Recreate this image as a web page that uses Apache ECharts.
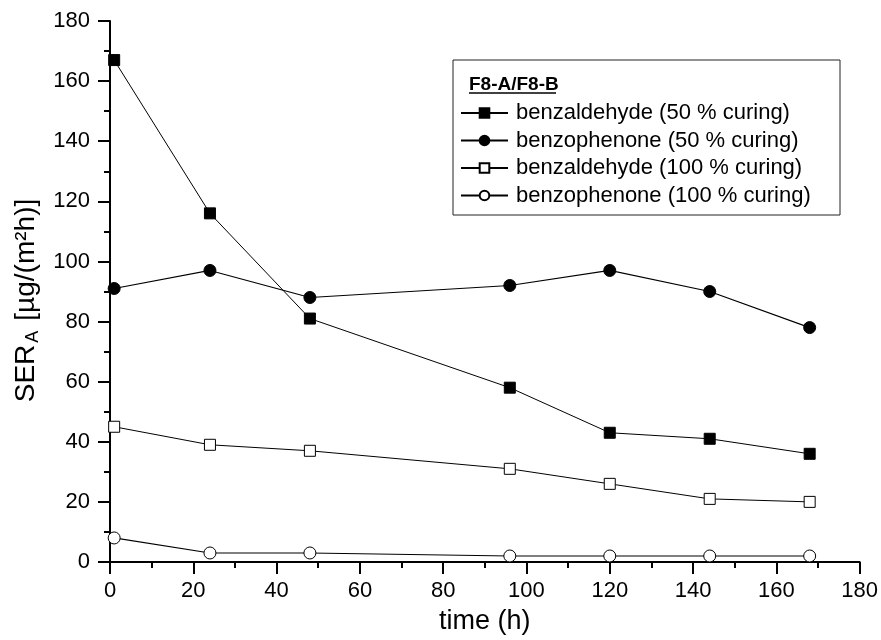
<!DOCTYPE html>
<html>
<head>
<meta charset="utf-8">
<script src="https://cdn.jsdelivr.net/npm/echarts@6/dist/echarts.min.js"></script>
<style>
  html, body { margin: 0; padding: 0; background: #fff; }
  #chart { width: 881px; height: 640px; }
</style>
</head>
<body>
<div id="chart"></div>
<script>
// sampling times (h)
const hours = [1, 24, 48, 96, 120, 144, 168];

// SER_A values
const benzaldehyde50 = [167, 116, 81, 58, 43, 41, 36];
const benzophenone50 = [91, 97, 88, 92, 97, 90, 78];
const benzaldehyde100 = [45, 39, 37, 31, 26, 21, 20];
const benzophenone100 = [8, 3, 3, 2, 2, 2, 2];

const seriesNames = [
  'benzaldehyde (50 % curing)',
  'benzophenone (50 % curing)',
  'benzaldehyde (100 % curing)',
  'benzophenone (100 % curing)',
];

const font = 'Liberation Sans, Arial, sans-serif';

const pair = (ys) => hours.map((h, i) => [h, ys[i]]);

function mkSeries(name, ys, symbol, filled, size, lineW) {
  return {
    name,
    type: 'line',
    data: pair(ys),
    symbol,
    symbolSize: size,
    showSymbol: true,
    lineStyle: { color: '#000', width: lineW },
    itemStyle: {
      color: filled ? '#000' : '#fff',
      borderColor: '#000',
      borderWidth: 1,
    },
    emphasis: { disabled: true },
  };
}

const chart = echarts.init(document.getElementById('chart'));
chart.setOption({
  animation: false,
  backgroundColor: '#fff',
  grid: { left: 110, right: 20, top: 21, bottom: 76 },
  xAxis: {
    type: 'value',
    min: 0,
    max: 180,
    interval: 20,
    name: 'time (h)',
    nameLocation: 'middle',
    nameGap: 46,
    nameTextStyle: { fontFamily: font, fontSize: 27, color: '#000' },
    axisLine: { show: true, onZero: false, lineStyle: { color: '#000', width: 2 } },
    axisTick: { show: true, length: 12, lineStyle: { color: '#000', width: 2 } },
    minorTick: { show: true, splitNumber: 2, length: 6, lineStyle: { color: '#000', width: 2 } },
    axisLabel: { fontFamily: font, fontSize: 22, color: '#000', margin: 18 },
    splitLine: { show: false },
  },
  yAxis: {
    type: 'value',
    min: 0,
    max: 180,
    interval: 20,
    name: '{n|SER}{s|A}{n|[µg/(m²h)]}',
    nameLocation: 'middle',
    nameGap: 68,
    nameRotate: 90,
    nameTextStyle: {
      fontFamily: font,
      color: '#000',
      padding: [0, 18, 0, 0],
      rich: {
        n: { fontFamily: font, fontSize: 28, color: '#000' },
        s: { fontFamily: font, fontSize: 18, color: '#000', verticalAlign: 'bottom', padding: [13, 10, 0, 2] },
      },
    },
    axisLine: { show: true, lineStyle: { color: '#000', width: 2 } },
    axisTick: { show: true, length: 12, lineStyle: { color: '#000', width: 2 } },
    minorTick: { show: true, splitNumber: 2, length: 6, lineStyle: { color: '#000', width: 2 } },
    axisLabel: { fontFamily: font, fontSize: 22, color: '#000', margin: 20 },
    splitLine: { show: false },
  },
  legend: {
    orient: 'vertical',
    left: 460,
    top: 102,
    padding: 0,
    itemWidth: 47,
    itemHeight: 12,
    itemGap: 5.5,
    data: seriesNames,
    textStyle: { fontFamily: font, fontSize: 22, color: '#000', lineHeight: 22, padding: [0, 0, 0, 3] },
    selectedMode: false,
  },
  graphic: [
    {
      type: 'rect',
      shape: { x: 453, y: 60, width: 387, height: 155 },
      style: { fill: 'none', stroke: '#222', lineWidth: 1 },
      z: 1,
    },
    {
      type: 'text',
      left: 469,
      top: 75,
      style: { text: 'F8-A/F8-B', font: 'bold 19px ' + font, fill: '#000' },
    },
    {
      type: 'line',
      shape: { x1: 469, y1: 93, x2: 556, y2: 93 },
      style: { stroke: '#000', lineWidth: 1.5 },
    },
  ],
  series: [
    mkSeries(seriesNames[0], benzaldehyde50, 'rect', true, 11, 1),
    mkSeries(seriesNames[1], benzophenone50, 'circle', true, 12, 1.2),
    mkSeries(seriesNames[2], benzaldehyde100, 'rect', false, 11, 1),
    mkSeries(seriesNames[3], benzophenone100, 'circle', false, 12, 1.2),
  ],
});
</script>
</body>
</html>
